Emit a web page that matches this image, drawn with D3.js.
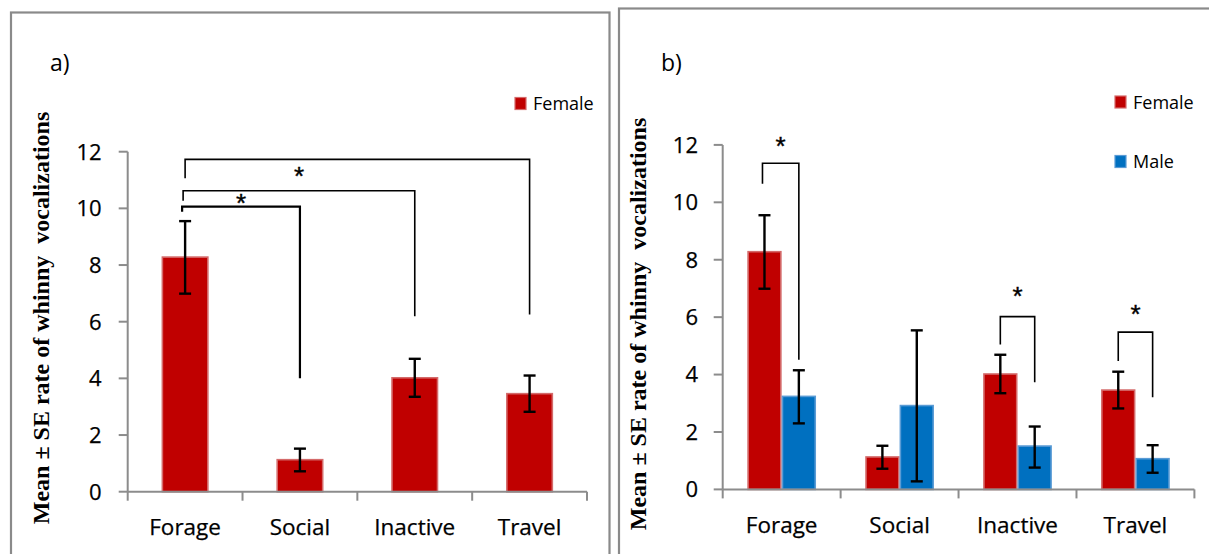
<!DOCTYPE html>
<html>
<head>
<meta charset="utf-8">
<script src="https://cdn.jsdelivr.net/npm/d3@7"></script>
<style>
  html, body { margin: 0; padding: 0; background: #fff; }
  svg { display: block; }
</style>
</head>
<body>
<svg id="chart" width="1209" height="554"></svg>
<script>
// ---------------- data ----------------
const categories = ["Forage", "Social", "Inactive", "Travel"];
const seriesNames = ["Female", "Male"];
const femaleMean  = [8.28, 1.13, 4.02, 3.46];
const femaleUpper = [9.55, 1.52, 4.69, 4.10];
const femaleLower = [6.99, 0.72, 3.35, 2.82];
const maleMean    = [3.24, 2.92, 1.51, 1.07];
const maleUpper   = [4.15, 5.54, 2.19, 1.54];
const maleLower   = [2.30, 0.28, 0.76, 0.58];
const yTicks = [0, 2, 4, 6, 8, 10, 12];
const yTitle = "Mean \u00B1 SE rate of whinny  vocalizations";

// significance brackets (value units): left category/series, right category/series
const bracketsA = [
  { from: ["Forage", "Female"], to: ["Social", "Female"],   top: 10.06, leftEnd: 9.88,  rightEnd: 4.00, star: 10.33, width: 2.2, dx: -3 },
  { from: ["Forage", "Female"], to: ["Inactive", "Female"], top: 10.62, leftEnd: 10.27, rightEnd: 6.19, star: 11.27, width: 1.6, dx: -2 },
  { from: ["Forage", "Female"], to: ["Travel", "Female"],   top: 11.73, leftEnd: 11.06, rightEnd: 6.25, star: null,  width: 1.6, dx: 0 }
];
const bracketsB = [
  { from: ["Forage", "Female"],   to: ["Forage", "Male"],   top: 11.36, leftEnd: 10.65, rightEnd: 4.52, star: 12.07, width: 1.6, dx: -2 },
  { from: ["Inactive", "Female"], to: ["Inactive", "Male"], top: 6.02,  leftEnd: 5.05,  rightEnd: 3.73, star: 6.86,  width: 1.6, dx: 0 },
  { from: ["Travel", "Female"],   to: ["Travel", "Male"],   top: 5.48,  leftEnd: 4.47,  rightEnd: 3.21, star: 6.22,  width: 1.6, dx: 0 }
];

const colors = { Female: "#C00000", Male: "#0070C0" };
const edgeColors = { Female: "#D46A6A", Male: "#5A9BD5" };

const svg = d3.select("#chart");
const FONT = "'Open Sans', sans-serif";

// panel frames
svg.append("rect").attr("x", 11).attr("y", 12.5).attr("width", 598.5).attr("height", 600)
  .attr("fill", "none").attr("stroke", "#8a8a8a").attr("stroke-width", 2.2);
svg.append("rect").attr("x", 619).attr("y", 8.5).attr("width", 600).attr("height", 600)
  .attr("fill", "none").attr("stroke", "#8a8a8a").attr("stroke-width", 2.2);

function buildRows(series) {
  return categories.map((c, i) => {
    const row = { category: c, values: [] };
    series.forEach(s => {
      if (s === "Female") row.values.push({ series: s, mean: femaleMean[i], up: femaleUpper[i], lo: femaleLower[i] });
      else row.values.push({ series: s, mean: maleMean[i], up: maleUpper[i], lo: maleLower[i] });
    });
    return row;
  });
}

function drawPanel(cfg) {
  const g = svg.append("g");
  const x0 = d3.scaleBand().domain(categories).range([cfg.left, cfg.right]).padding(0);
  const bw = x0.bandwidth();
  const groupW = bw * cfg.groupFrac;
  const x1 = d3.scaleBand().domain(cfg.series).range([0, groupW]).padding(0);
  const off = (bw - groupW) / 2;
  const y = d3.scaleLinear().domain([0, 12]).range([cfg.bottom, cfg.top]);
  const cx = (cat, s) => x0(cat) + off + x1(s) + x1.bandwidth() / 2;

  // y axis
  g.append("line").attr("x1", cfg.left).attr("x2", cfg.left).attr("y1", y(0)).attr("y2", y(12))
    .attr("stroke", "#8c8c8c").attr("stroke-width", 2);
  g.selectAll(".yt").data(yTicks).enter().append("line")
    .attr("x1", cfg.left - 9).attr("x2", cfg.left).attr("y1", d => y(d)).attr("y2", d => y(d))
    .attr("stroke", "#8c8c8c").attr("stroke-width", 2);
  g.selectAll(".yl").data(yTicks).enter().append("text")
    .attr("x", cfg.left - cfg.tickLabelGap).attr("y", d => y(d) + 7.8)
    .attr("text-anchor", "end").attr("font-family", FONT).attr("font-size", 22)
    .attr("fill", "#000").attr("stroke", "#000").attr("stroke-width", 0.25).text(d => d);

  // bars
  const rows = buildRows(cfg.series);
  const groups = g.selectAll(".grp").data(rows).enter().append("g");
  groups.selectAll("rect").data(d => d.values.map(v => Object.assign({ category: d.category }, v)))
    .enter().append("rect")
    .attr("x", d => x0(d.category) + off + x1(d.series) + 0.8)
    .attr("width", x1.bandwidth() - 1.6)
    .attr("y", d => y(d.mean))
    .attr("height", d => y(0) - y(d.mean))
    .attr("fill", d => colors[d.series])
    .attr("stroke", d => edgeColors[d.series]).attr("stroke-width", 1.6);

  // error bars
  const eb = groups.selectAll(".eb").data(d => d.values.map(v => Object.assign({ category: d.category }, v)))
    .enter().append("g");
  eb.append("line").attr("x1", d => cx(d.category, d.series)).attr("x2", d => cx(d.category, d.series))
    .attr("y1", d => y(d.up)).attr("y2", d => y(d.lo)).attr("stroke", "#000").attr("stroke-width", 2.4);
  eb.append("line").attr("x1", d => cx(d.category, d.series) - 6).attr("x2", d => cx(d.category, d.series) + 6)
    .attr("y1", d => y(d.up)).attr("y2", d => y(d.up)).attr("stroke", "#000").attr("stroke-width", 2.4);
  eb.append("line").attr("x1", d => cx(d.category, d.series) - 6).attr("x2", d => cx(d.category, d.series) + 6)
    .attr("y1", d => y(d.lo)).attr("y2", d => y(d.lo)).attr("stroke", "#000").attr("stroke-width", 2.4);

  // x axis
  g.append("line").attr("x1", cfg.left).attr("x2", cfg.right).attr("y1", y(0)).attr("y2", y(0))
    .attr("stroke", "#8c8c8c").attr("stroke-width", 2);
  const bounds = categories.map(c => x0(c)).concat([cfg.right]);
  g.selectAll(".xt").data(bounds).enter().append("line")
    .attr("x1", d => d).attr("x2", d => d).attr("y1", y(0)).attr("y2", y(0) + 9)
    .attr("stroke", "#8c8c8c").attr("stroke-width", 2);
  g.selectAll(".xl").data(categories).enter().append("text")
    .attr("x", d => x0(d) + bw / 2).attr("y", cfg.catBaseline)
    .attr("text-anchor", "middle").attr("font-family", FONT).attr("font-size", 22.5)
    .attr("fill", "#000").attr("stroke", "#000").attr("stroke-width", 0.25).text(d => d);

  // brackets
  cfg.brackets.forEach(b => {
    const xl = cx(b.from[0], b.from[1]) + b.dx;
    const xr = cx(b.to[0], b.to[1]);
    g.append("path")
      .attr("d", `M${xl},${y(b.leftEnd)}V${y(b.top)}H${xr}V${y(b.rightEnd)}`)
      .attr("fill", "none").attr("stroke", "#000").attr("stroke-width", b.width);
    if (b.star !== null) {
      g.append("text").attr("x", (xl + xr) / 2).attr("y", y(b.star) + 12.5)
        .attr("text-anchor", "middle").attr("font-family", "'Liberation Sans', Arial, sans-serif")
        .attr("font-size", 26).attr("fill", "#000").attr("stroke", "#000").attr("stroke-width", 0.4)
        .text("*");
    }
  });

  // y title
  g.append("text")
    .attr("transform", `translate(${cfg.titleX},${cfg.titleY}) rotate(-90)`)
    .attr("text-anchor", "middle").attr("font-family", "'Liberation Serif', 'Times New Roman', serif")
    .attr("font-weight", "bold").attr("font-size", 24).attr("fill", "#000")
    .attr("xml:space", "preserve").style("white-space", "pre")
    .text(yTitle);

  // panel label
  g.append("text").attr("x", cfg.labelX).attr("y", 70.5).attr("font-family", FONT)
    .attr("font-size", 23).attr("fill", "#000").text(cfg.label);

  // legend
  cfg.series.forEach((s, i) => {
    const ly = cfg.legendY[i];
    g.append("rect").attr("x", cfg.legendX).attr("y", ly - 6).attr("width", 11).attr("height", 12)
      .attr("fill", colors[s]).attr("stroke", edgeColors[s]).attr("stroke-width", 1.2);
    g.append("text").attr("x", cfg.legendX + 18).attr("y", ly + 6.5).attr("font-family", FONT)
      .attr("font-size", 18).attr("fill", "#000").text(s);
  });
}

drawPanel({
  left: 127.7, right: 587, top: 151.7, bottom: 491.7, groupFrac: 0.41,
  series: ["Female"], tickLabelGap: 26, catBaseline: 535,
  brackets: bracketsA, titleX: 48.5, titleY: 318, label: "a)", labelX: 50,
  legendX: 515, legendY: [103.5]
});
drawPanel({
  left: 722.7, right: 1194.4, top: 144.9, bottom: 489.4, groupFrac: 0.583,
  series: seriesNames, tickLabelGap: 24.7, catBaseline: 532.5,
  brackets: bracketsB, titleX: 646, titleY: 324, label: "b)", labelX: 661,
  legendX: 1115, legendY: [102, 161.5]
});
</script>
</body>
</html>
